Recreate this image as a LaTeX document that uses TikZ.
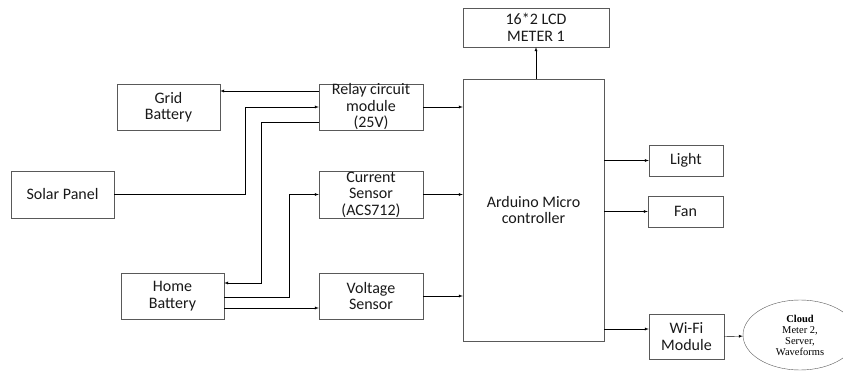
\documentclass[tikz,border=0pt]{standalone}
\usepackage{fontspec}
\setmainfont{Carlito}
\newfontfamily\cloudfont{Liberation Serif}
\usetikzlibrary{shapes.geometric}
\tikzset{
  blok/.style={draw=black!65, thin, align=center, inner sep=0pt,
    font=\fontsize{16}{16.5}\selectfont, text=black!90},
  >=latex
}
\begin{document}
\begin{tikzpicture}[x=1pt,y=-1pt]
\useasboundingbox (0,0) rectangle (843,371);
\node[blok, minimum width=103, minimum height=46] (grid) at (168.5,107) {Grid\\Battery};
\node[blok, minimum width=104, minimum height=46] (relay) at (371,107) {Relay circuit\\module\\(25V)};
\node[blok, minimum width=103, minimum height=47] (solar) at (62.5,194.5) {Solar Panel};
\node[blok, minimum width=104, minimum height=47] (current) at (371,194.5) {Current\\Sensor\\(ACS712)};
\node[blok, minimum width=103, minimum height=46] (home) at (172.5,296) {Home\\Battery};
\node[blok, minimum width=104, minimum height=46] (voltage) at (371,296) {Voltage\\Sensor};
\node[blok, minimum width=141, minimum height=262] (ard) at (533.5,210) {Arduino Micro\\controller};
\node[blok, minimum width=146, minimum height=39] (lcd) at (536,27.5) {16*2 LCD\\METER 1};
\node[blok, minimum width=74, minimum height=31] (light) at (686,160.5) {Light};
\node[blok, minimum width=75, minimum height=31] (fan) at (685.5,211.5) {Fan};
\node[blok, minimum width=75, minimum height=45] (wifi) at (686.5,336.5) {Wi-Fi\\Module};
\node[ellipse, draw=black!65, thin, minimum width=114, minimum height=70, inner sep=0pt,
  align=center, font=\cloudfont\fontsize{10.5}{11}\selectfont] (cloud) at (800,335)
  {\textbf{Cloud}\\Meter 2,\\Server,\\Waveforms};
\draw[->] (relay.west |- 0,91) -- (grid.east |- 0,91);
\draw[->] (solar.east) -- (245,194.5) -- (245,107) -- (relay.west |- 0,107);
\draw[->] (relay.west |- 0,122) -- (261,122) -- (261,283) -- (home.east |- 0,283);
\draw[->] (home.east |- 0,297) -- (289,297) -- (289,194.5) -- (current.west);
\draw[->] (home.east |- 0,308) -- (voltage.west |- 0,308);
\foreach \n in {relay,current,voltage}
  \draw[->] (\n.east) -- (\n.east -| ard.west);
\draw[->] (ard.north -| lcd) -- (lcd.south);
\foreach \n in {light,fan}
  \draw[->] (ard.east |- \n) -- (\n.west);
\draw[->] (ard.east |- 0,329) -- (wifi.west |- 0,329);
\draw[->] (wifi.east) -- (cloud);
\end{tikzpicture}
\end{document}
